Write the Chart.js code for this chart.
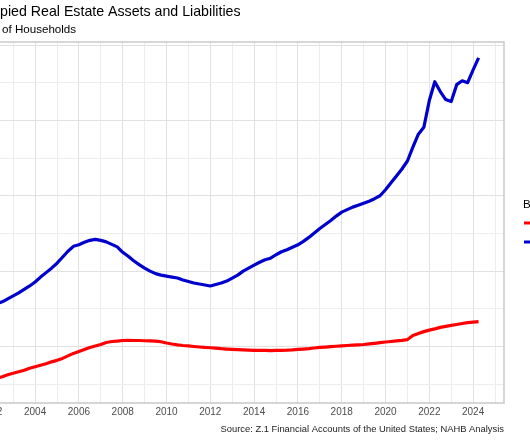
<!DOCTYPE html>
<html lang="en">

<head>
  <meta charset="UTF-8" />
  <title>Owner-Occupied Real Estate</title>
  <style>
    html, body { margin: 0; padding: 0; background: #fff; }
    #wrap { position: relative; width: 530px; height: 442px; overflow: hidden; }
    #myChart { position: absolute; left: -80px; top: 0; }
  </style>
</head>

<body>
  <div id="wrap">
    <canvas id="myChart" width="640" height="442"></canvas>
  </div>

  <script src="https://cdn.jsdelivr.net/npm/chart.js"></script>
  <script>
    // quarterly data, 2001Q1 .. 2024Q2 (trillions of dollars)
    const firstYear = 2001;
    const assets = [
      13.55, 13.95, 14.34, 14.74, 15.26, 15.66, 15.92, 16.32, 16.71, 17.11, 17.57, 18.03,
      18.55, 19.21, 19.80, 20.39, 21.05, 21.84, 22.63, 23.29, 23.49, 23.82, 24.08, 24.21,
      24.08, 23.88, 23.55, 23.22, 22.50, 21.97, 21.38, 20.86, 20.39, 20.00, 19.67, 19.47,
      19.34, 19.21, 19.08, 18.82, 18.62, 18.42, 18.29, 18.16, 18.03, 18.22, 18.42, 18.68,
      19.08, 19.47, 20.00, 20.39, 20.79, 21.18, 21.51, 21.71, 22.17, 22.57, 22.83, 23.16,
      23.49, 23.95, 24.47, 25.07, 25.66, 26.18, 26.71, 27.30, 27.83, 28.16, 28.49, 28.75,
      29.01, 29.28, 29.61, 30.00, 30.79, 31.71, 32.63, 33.55, 34.61, 36.45, 38.16, 39.08,
      42.63, 45.13, 43.82, 42.76, 42.50, 44.74, 45.26, 45.00, 46.71, 48.29
    ];
    const liabilities = [
      5.00, 5.13, 5.26, 5.46, 5.66, 5.79, 5.99, 6.25, 6.45, 6.64, 6.84, 7.11,
      7.30, 7.50, 7.70, 7.96, 8.16, 8.42, 8.75, 9.08, 9.34, 9.61, 9.87, 10.07,
      10.26, 10.53, 10.66, 10.72, 10.79, 10.82, 10.79, 10.79, 10.76, 10.74, 10.70, 10.63,
      10.46, 10.33, 10.22, 10.13, 10.07, 10.00, 9.93, 9.87, 9.83, 9.78, 9.71, 9.66,
      9.61, 9.57, 9.54, 9.51, 9.49, 9.47, 9.47, 9.46, 9.47, 9.49, 9.51, 9.55,
      9.61, 9.66, 9.72, 9.80, 9.87, 9.92, 9.97, 10.03, 10.08, 10.13, 10.18, 10.22,
      10.26, 10.34, 10.42, 10.50, 10.59, 10.66, 10.74, 10.82, 10.92, 11.45, 11.71, 11.97,
      12.17, 12.33, 12.53, 12.66, 12.79, 12.92, 13.05, 13.16, 13.22, 13.29
    ];
    const quarters = assets.map((v, i) => firstYear + i / 4);

    const ctx = document.getElementById("myChart");

    // title, subtitle, caption and legend as drawn in the (cropped) original
    const OFF = 80; // canvas is shifted 80px to the left
    const decor = {
      id: "decor",
      afterDraw(chart) {
        const c = chart.ctx;
        const a = chart.chartArea;
        c.save();
        c.strokeStyle = "#c9c9c9";
        c.lineWidth = 1.5;
        c.strokeRect(a.left, a.top, a.right - a.left, a.bottom - a.top);

        c.fillStyle = "#000";
        c.textAlign = "left";
        c.textBaseline = "alphabetic";
        c.font = '14.2px "Liberation Sans", Arial, sans-serif';
        c.fillText("pied Real Estate Assets and Liabilities", OFF + 0, 16);
        c.font = '11.6px "Liberation Sans", Arial, sans-serif';
        c.fillText("of Households", OFF + 2, 33);

        c.fillStyle = "#222";
        c.textAlign = "right";
        c.font = '9.4px "Liberation Sans", Arial, sans-serif';
        c.fillText("Source: Z.1 Financial Accounts of the United States; NAHB Analysis", a.right, 432);

        // legend
        c.textAlign = "left";
        c.fillStyle = "#000";
        c.font = '11.6px "Liberation Sans", Arial, sans-serif';
        c.fillText("B", OFF + 523, 208);
        c.lineWidth = 3;
        c.strokeStyle = "#ff0000";
        c.beginPath(); c.moveTo(OFF + 524, 223); c.lineTo(OFF + 541, 223); c.stroke();
        c.strokeStyle = "#0000cd";
        c.beginPath(); c.moveTo(OFF + 524, 242); c.lineTo(OFF + 541, 242); c.stroke();
        c.restore();
      }
    };

    new Chart(ctx, {
      type: "line",
      data: {
        labels: quarters,
        datasets: [
          {
            label: "Liabilities",
            data: quarters.map((q, i) => ({ x: q, y: liabilities[i] })),
            borderColor: "#ff0000",
            borderWidth: 3.2,
            borderJoinStyle: "round",
            pointRadius: 0,
            tension: 0,
          },
          {
            label: "Assets",
            data: quarters.map((q, i) => ({ x: q, y: assets[i] })),
            borderColor: "#0000cd",
            borderWidth: 3.2,
            borderJoinStyle: "round",
            pointRadius: 0,
            tension: 0,
          },
        ],
      },
      options: {
        responsive: false,
        animation: false,
        layout: { padding: { left: 24, right: 56, top: 42, bottom: 21 } },
        plugins: {
          legend: { display: false },
          tooltip: { enabled: false },
        },
        scales: {
          x: {
            type: "linear",
            min: 1999.84,
            max: 2025.41,
            border: { display: false },
            grid: {
              drawTicks: false,
              color: (c) => (c.tick && c.tick.value % 2 === 0 ? "#e1e1e1" : "#ededed"),
            },
            ticks: {
              stepSize: 1,
              autoSkip: false,
              maxRotation: 0,
              includeBounds: false,
              padding: 3,
              color: "#4d4d4d",
              font: { family: '"Liberation Sans", Arial, sans-serif', size: 10 },
              callback: (v) => (v % 2 === 0 ? String(v) : ""),
            },
          },
          y: {
            min: 2.5,
            max: 50.4,
            border: { display: false },
            grid: {
              drawTicks: false,
              color: (c) => (c.tick && c.tick.value % 10 === 0 ? "#e1e1e1" : "#ededed"),
            },
            ticks: { display: false, stepSize: 5, includeBounds: false },
          },
        },
      },
      plugins: [decor],
    });
  </script>
</body>

</html>
